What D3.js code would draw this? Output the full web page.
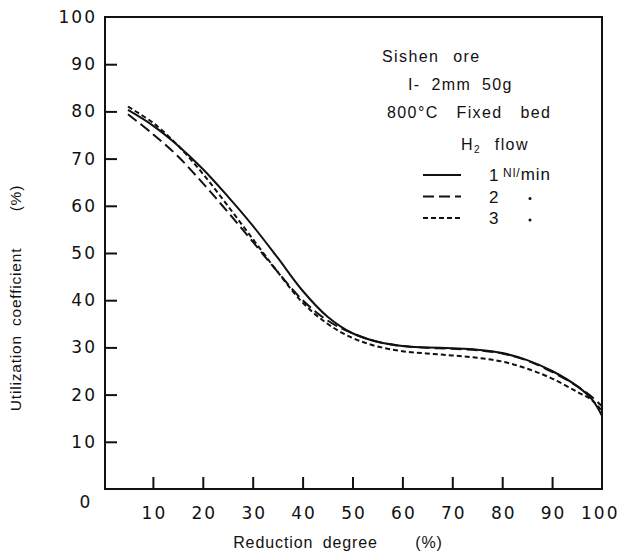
<!DOCTYPE html>
<html>
<head>
<meta charset="utf-8">
<script src="https://cdn.jsdelivr.net/npm/d3@7"></script>
<style>
  body { margin: 0; background: #fff; }
  svg text { fill: #111; }
  .tick text { font-family: "DejaVu Sans", sans-serif; font-size: 17px; letter-spacing: 2px; }
  .axis path, .axis line { stroke: #111; stroke-width: 2; }
</style>
</head>
<body>
<svg id="chart"></svg>
<script>
// reduction degree (%)
const reduction = [5, 10, 15, 20, 25, 30, 35, 40, 45, 50, 55, 60, 65, 70, 75, 80, 85, 90, 95, 98, 100]
// utilization coefficient (%) for each H2 flow
const flow1 = [80.3, 77, 72.8, 67.8, 62, 55.8, 49, 42, 36.5, 33, 31.2, 30.3, 30, 29.8, 29.5, 28.8, 27.3, 25, 21.8, 19, 15.5]
const flow2 = [79.4, 75.2, 70.5, 64.8, 58.7, 52.4, 46, 40, 35.7, 33, 31.2, 30.3, 29.9, 29.7, 29.4, 28.7, 27.2, 24.8, 21.8, 19.5, 17.5]
const flow3 = [81, 77.6, 72.8, 66.8, 60, 53, 46, 39.5, 35, 32, 30.2, 29.2, 28.7, 28.3, 27.8, 27, 25.5, 23.4, 20.6, 18.8, 16.5]
const flowLabels = ["1", "2", "3"]
const xTicks = [10, 20, 30, 40, 50, 60, 70, 80, 90, 100]
const yTicks = [10, 20, 30, 40, 50, 60, 70, 80, 90, 100]

const width = 618, height = 555
const margin = {top: 17, right: 16, bottom: 66, left: 103}

const svg = d3.select("#chart")
  .attr("width", width)
  .attr("height", height)

const x = d3.scaleLinear().domain([0, 100]).range([margin.left, width - margin.right])
const y = d3.scaleLinear().domain([0, 100]).range([height - margin.bottom, margin.top])

// frame
svg.append("rect")
  .attr("x", x(0) + 2).attr("y", y(100))
  .attr("width", x(100) - x(0) - 2).attr("height", y(0) - y(100))
  .attr("fill", "none").attr("stroke", "#111").attr("stroke-width", 2)

const xAxis = svg.append("g")
  .attr("class", "axis")
  .attr("transform", `translate(0, ${y(0)})`)
  .call(d3.axisBottom(x).tickValues(xTicks).tickSize(-12).tickPadding(18).tickFormat(d3.format("d")))
xAxis.select(".domain").remove()
xAxis.selectAll(".tick").filter(d => d === 100).select("line").remove()
// letter-spacing adds a trailing gap, nudge labels so they stay centred
xAxis.selectAll(".tick text").attr("dx", 1)
xAxis.selectAll(".tick").filter(d => d === 100).select("text").attr("text-anchor", "end").attr("x", 16)

const yAxis = svg.append("g")
  .attr("class", "axis")
  .attr("transform", `translate(${x(0) + 2}, 0)`)
  .call(d3.axisLeft(y).tickValues(yTicks).tickSize(-12).tickPadding(10).tickFormat(d3.format("d")))
yAxis.select(".domain").remove()
yAxis.selectAll(".tick").filter(d => d === 100).select("line").remove()
yAxis.selectAll(".tick text").attr("dx", 2)

// the lone zero in the corner
svg.append("text")
  .attr("x", 85).attr("y", y(0) + 19)
  .attr("text-anchor", "middle")
  .style("font-family", "DejaVu Sans, sans-serif").style("font-size", "17px")
  .text("0")

// axis titles
svg.append("text")
  .attr("transform", `translate(21, 298) rotate(-90)`)
  .attr("text-anchor", "middle")
  .style("font-family", "Liberation Sans, Arial, sans-serif").style("font-size", "15.5px")
  .style("letter-spacing", "0.8px").style("word-spacing", "4px")
  .text("Utilization coefficient \u00a0\u00a0 (%)")

svg.append("text")
  .attr("x", 338).attr("y", 548)
  .attr("text-anchor", "middle")
  .style("font-family", "Liberation Sans, Arial, sans-serif").style("font-size", "16px")
  .style("letter-spacing", "0.9px").style("word-spacing", "4px")
  .text("Reduction degree \u00a0\u00a0 (%)")

// curves
const series = [
  {values: flow1, dash: null},
  {values: flow2, dash: "11,5"},
  {values: flow3, dash: "5,3"}
]

const line = d3.line()
  .x((d, i) => x(reduction[i]))
  .y(d => y(d))
  .curve(d3.curveCatmullRom)

svg.selectAll(".curve")
  .data(series)
  .enter().append("path")
  .attr("class", "curve")
  .attr("d", d => line(d.values))
  .attr("fill", "none")
  .attr("stroke", "#111")
  .attr("stroke-width", 2)
  .attr("stroke-dasharray", d => d.dash)

// notes
const note = svg.append("g")
  .style("font-family", "Liberation Sans, Arial, sans-serif")
  .style("font-size", "16px")
  .style("letter-spacing", "1.4px")
  .style("word-spacing", "8px")

note.append("text").attr("x", 382).attr("y", 62).text("Sishen ore")
note.append("text").attr("x", 408).attr("y", 90).style("word-spacing", "5px").text("I- 2mm  50g")
note.append("text").attr("x", 387).attr("y", 118).style("word-spacing", "12px").text("800°C  Fixed  bed")
const h2 = note.append("text").attr("x", 461).attr("y", 150)
h2.append("tspan").text("H")
h2.append("tspan").attr("font-size", "10px").attr("dy", 3).text("2")
h2.append("tspan").attr("dy", -3).text(" flow")

// legend
const legend = svg.selectAll(".legend")
  .data(series)
  .enter().append("g")
  .attr("class", "legend")
  .attr("transform", (d, i) => `translate(0, ${175 + i * 21.5})`)

legend.append("line")
  .attr("x1", 423).attr("x2", 461)
  .attr("stroke", "#111").attr("stroke-width", 2)
  .attr("stroke-dasharray", d => d.dash)

legend.append("text")
  .attr("x", 489).attr("y", 6)
  .style("font-family", "Liberation Sans, Arial, sans-serif").style("font-size", "17px")
  .text((d, i) => flowLabels[i])

legend.filter((d, i) => i === 0).append("text")
  .attr("x", 503).attr("y", 5)
  .style("font-family", "Liberation Sans, Arial, sans-serif").style("font-size", "17px")
  .style("letter-spacing", "1px")
  .html('<tspan font-size="12px" dy="-3">Nl/</tspan><tspan dy="3">min</tspan>')

legend.filter((d, i) => i > 0).append("circle")
  .attr("cx", 530).attr("cy", 2).attr("r", 1.5).attr("fill", "#111")
</script>
</body>
</html>
